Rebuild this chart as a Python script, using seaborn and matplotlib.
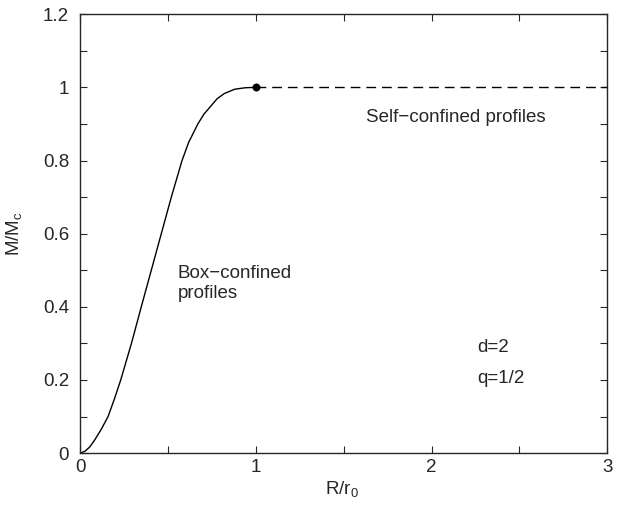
import numpy as np
import pandas as pd
import matplotlib
matplotlib.use("Agg")
import matplotlib.pyplot as plt
import seaborn as sns
from matplotlib.ticker import MultipleLocator, FormatStrFormatter

# box-confined branch
r_box = [0, 0.027, 0.055, 0.083, 0.12, 0.159, 0.195, 0.231, 0.292, 0.348,
         0.405, 0.462, 0.519, 0.58, 0.618, 0.67, 0.705, 0.746, 0.78, 0.82,
         0.88, 0.94, 1.0]
m_box = [0, 0.005, 0.017, 0.036, 0.065, 0.1, 0.148, 0.2, 0.3, 0.4,
         0.5, 0.6, 0.7, 0.8, 0.85, 0.9, 0.927, 0.95, 0.969, 0.983,
         0.995, 0.999, 1.0]

# self-confined branch
r_self = [1.0, 3.0]
m_self = [1.0, 1.0]

# critical point
r_crit = [1.0]
m_crit = [1.0]

sns.set_style("ticks")
plt.rcParams['font.family'] = ['Liberation Sans', 'DejaVu Sans']
plt.rcParams['mathtext.fontset'] = 'custom'
plt.rcParams['mathtext.rm'] = 'Liberation Sans'

FS = 13.5

fig = plt.figure(figsize=(6.26, 5.08), dpi=100)
ax = fig.add_axes([0.128, 0.108, 0.842, 0.864])

box_df = pd.DataFrame({'R': r_box, 'M': m_box})
self_df = pd.DataFrame({'R': r_self, 'M': m_self})

sns.lineplot(data=box_df, x='R', y='M', ax=ax, color='black', lw=1.0,
             sort=False, estimator=None)
sns.lineplot(data=self_df, x='R', y='M', ax=ax, color='black', lw=1.0,
             estimator=None)
ax.lines[-1].set_dashes([7, 4.3])
sns.scatterplot(x=r_crit, y=m_crit, ax=ax, color='black', s=28,
                edgecolor='black', zorder=5)

ax.set_xlim(0, 3)
ax.set_ylim(0, 1.2)
ax.xaxis.set_major_locator(MultipleLocator(1))
ax.xaxis.set_minor_locator(MultipleLocator(0.5))
ax.yaxis.set_major_locator(MultipleLocator(0.2))
ax.yaxis.set_minor_locator(MultipleLocator(0.1))
ax.xaxis.set_major_formatter(FormatStrFormatter('%g'))
ax.yaxis.set_major_formatter(FormatStrFormatter('%g'))
ax.tick_params(which='both', direction='in', top=True, right=True,
               labelsize=FS, width=0.8, length=5)
ax.tick_params(axis='x', pad=4)
ax.tick_params(axis='y', pad=8)
for sp in ax.spines.values():
    sp.set_linewidth(1.0)

ax.set_xlabel(r'R/r$_\mathregular{0}$', fontsize=FS)
ax.set_ylabel(r'M/M$_\mathregular{c}$', fontsize=FS)
ax.xaxis.set_label_coords(0.496, -0.06)
ax.yaxis.set_label_coords(-0.104, 0.5)

ax.text(2.14, 0.918, 'Self\u2212confined profiles', fontsize=FS,
        ha='center', va='center')
ax.text(0.557, 0.492, 'Box\u2212confined', fontsize=FS, va='center')
ax.text(0.557, 0.437, 'profiles', fontsize=FS, va='center')
ax.text(2.26, 0.29, 'd=2', fontsize=FS, va='center')
ax.text(2.26, 0.205, 'q=1/2', fontsize=FS, va='center')

fig.savefig('out.png', dpi=100)
